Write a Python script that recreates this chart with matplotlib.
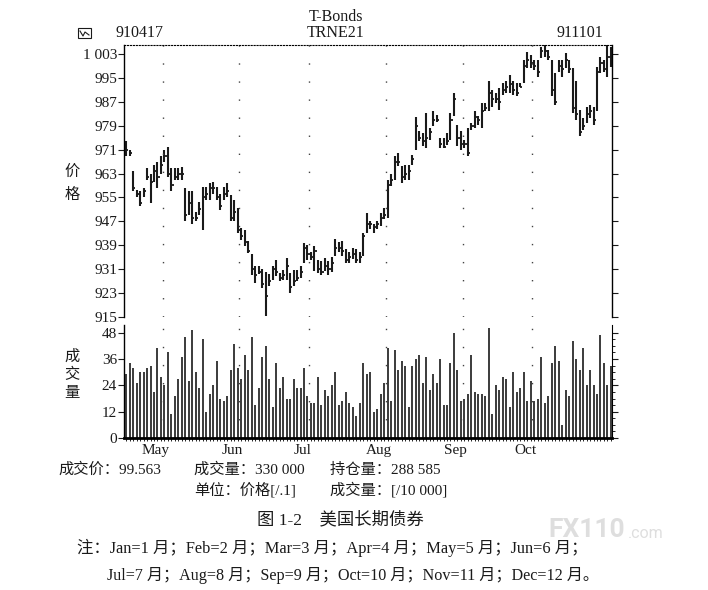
import numpy as np
import matplotlib.pyplot as plt
from matplotlib.patches import Rectangle
from matplotlib.lines import Line2D

plt.rcParams['font.family'] = ['Liberation Serif', 'Noto Sans CJK SC']

# daily bars 910417 .. 911101
highs = [974, 971, 964, 957.5, 957, 958, 965, 963, 966, 967,
         969, 971, 972, 965, 964.7, 964.7, 965.2, 958, 957, 957,
         950, 953.6, 958.5, 958.6, 959.7, 960.2, 958.6, 956.3, 958.6, 959.7,
         955.8, 954.1, 951.3, 944.7, 944, 940.3, 936, 932, 932, 930.9,
         929.9, 929.3, 932, 934.1, 929.7, 930.8, 934.7, 929.7, 930.8, 930.8,
         931.9, 939.7, 939.1, 936.9, 938.6, 934, 933.6, 934.7, 933.6, 935,
         941, 940, 940.5, 937.7, 936.6, 938.2, 937.7, 936.6, 943.2, 949.9,
         947.1, 946, 947.1, 949.9, 951.6, 961, 962.7, 968.8, 969.9, 965.4,
         966, 966, 969.3, 982, 977.1, 976.6, 983.2, 978.2, 983.8, 982.7,
         974.9, 975, 976.6, 983.2, 989.9, 979.3, 977.1, 974.3, 978.2, 979.9,
         983.8, 982.1, 986.6, 986.6, 993.8, 991, 989.9, 991.6, 993.2, 993.8,
         996, 993.8, 993.2, 993.2, 1001, 1003.8, 1002.7, 1001, 1001, 1005.4,
         1006.5, 1004.3, 1001, 996.6, 1001, 1001, 1003.2, 1001, 998.2, 993.8,
         984.3, 981.6, 985.4, 986, 985.4, 998.8, 1002.1, 1001, 1006, 1005.4]
lows = [969, 969, 957, 955, 952, 955, 961, 953, 960, 958,
        963, 967, 962, 957, 960.8, 961, 960.8, 947, 949, 946,
        947, 949.1, 944, 954.1, 954.1, 956.3, 954.1, 950.8, 954.1, 955.2,
        947, 947, 943, 940.8, 938.6, 936.4, 929.1, 926.5, 929.3, 924.8,
        915.3, 925.4, 927.5, 928.6, 926.9, 927.5, 927.5, 923, 925.3, 926.9,
        928, 933, 934.1, 934.1, 930.3, 929.6, 929.1, 930.3, 929.1, 930,
        935.5, 936.6, 935.5, 933.2, 933.2, 934.3, 933.2, 933.2, 935.5, 943.2,
        944.3, 943.2, 944.3, 945.4, 947.7, 948.2, 958.8, 961, 965.4, 959.9,
        961, 961, 966, 971, 973.8, 972.1, 971.6, 974.3, 978.8, 980.4,
        971.6, 971.6, 972.7, 974.3, 982.1, 972.1, 971, 971.6, 968.8, 977.7,
        978.2, 979.3, 978.2, 983.8, 983.8, 985.4, 986.6, 984.3, 989.3, 989.9,
        989.9, 989.3, 988.8, 992.1, 993.2, 998.2, 998.2, 997.7, 995.4, 1001.6,
        1002, 1001, 988.8, 986, 997.1, 995.4, 998.2, 996.6, 983.2, 981,
        975.4, 977.7, 979.9, 981.6, 979.3, 983.8, 996.6, 997.1, 995.4, 998.8]
closes = [971, 970, 958, 956, 953, 957, 962, 960, 964, 962,
          966, 969, 963, 959, 962, 963, 963, 949, 953, 948,
          948, 951, 955, 956, 958, 958, 955, 952, 956, 957,
          948, 950, 944, 942, 940, 937, 931, 929, 930, 926,
          922, 927, 931, 930, 928, 929, 932, 925, 927, 928,
          930, 938, 936, 935, 937, 931, 930, 932, 931, 933,
          938, 938, 937, 934, 935, 936, 934, 935, 942, 946,
          946, 945, 946, 948, 949, 959, 961, 967, 967, 962,
          963, 964, 968, 979, 975, 974, 975, 977, 981, 981,
          973, 972, 974, 981, 988, 975, 973, 973, 970, 979,
          982, 981, 984, 985, 990, 988, 988, 987, 991, 992,
          993, 991, 990, 992, 999, 1001, 1000, 999, 997, 1004,
          1004, 1002, 991, 987, 999, 998, 1001, 998, 985, 983,
          977, 979, 983, 984, 981, 997, 1000, 998, 1002, 1003]
volumes = [29, 34, 32, 25, 30, 30, 32, 33, 21, 41,
           28, 24, 39, 11, 19, 27, 37, 46, 26, 49,
           30, 23, 45, 12, 20, 24, 35, 18, 17, 19,
           31, 43, 32, 27, 38, 31, 46, 15, 23, 37,
           42, 27, 14, 34, 23, 28, 18, 18, 27, 23,
           23, 32, 19, 16, 16, 28, 15, 22, 19, 24,
           30, 15, 17, 21, 16, 14, 10, 16, 34, 29,
           30, 12, 13, 20, 25, 41, 17, 40, 31, 35,
           33, 14, 33, 36, 38, 25, 37, 22, 29, 25,
           36, 15, 15, 34, 48, 31, 17, 18, 20, 38,
           21, 20, 20, 19, 50, 11, 24, 22, 28, 27,
           14, 30, 21, 23, 30, 17, 26, 17, 18, 37,
           16, 19, 34, 42, 35, 6, 22, 19, 44, 36,
           31, 41, 24, 31, 24, 20, 47, 34, 24, 33]

month_labels = ["May", "Jun", "Jul", "Aug", "Sep", "Oct"]
month_starts = [10, 32, 52, 74, 96, 116]
price_ticks = [915, 923, 931, 939, 947, 955, 963, 971, 979, 987, 995, 1003]
price_tick_labels = ["915", "923", "931", "939", "947", "955", "963",
                     "971", "979", "987", "995", "1 003"]
volume_ticks = [0, 12, 24, 36, 48]

W, H = 708, 590
ink = "#1a1a1a"


def fx(px):
    return px / W


def fy(py):
    return 1 - py / H


fig = plt.figure(figsize=(W / 100, H / 100), dpi=100)
ax_p = fig.add_axes([fx(124), fy(317), fx(612) - fx(124), fy(45) - fy(317)])
ax_v = fig.add_axes([fx(124), fy(438), fx(612) - fx(124), fy(325) - fy(438)])

x = np.arange(len(closes))
xlim = (-0.6, len(closes) - 0.7)

# price panel
ax_p.vlines(x, lows, highs, color=ink, lw=1.5)
ax_p.hlines(closes, x, x + 0.6, color=ink, lw=1.3)
for m in month_starts:
    ax_p.axvline(m + 0.5, color="#444444", lw=1.0, ls=(0, (1, 12)))
ax_p.set_xlim(*xlim)
ax_p.set_ylim(915, 1006)
ax_p.set_yticks(price_ticks)
ax_p.set_yticklabels(price_tick_labels)
ax_p.set_xticks([])
ax_p.tick_params(axis="y", which="both", left=True, right=True, direction="out",
                 length=4, width=0.8, labelsize=11, pad=1, colors=ink)
ax_p.spines["bottom"].set_visible(False)
ax_p.spines["top"].set_linestyle(":")
ax_p.spines["top"].set_linewidth(0.8)
ax_p.spines["left"].set_linewidth(1.0)
ax_p.spines["right"].set_linewidth(1.0)

# volume panel
ax_v.vlines(x, 0, volumes, color=ink, lw=1.2)
for m in month_starts:
    ax_v.axvline(m + 0.5, color="#444444", lw=1.0, ls=(0, (1, 12)))
ax_v.set_xlim(*xlim)
ax_v.set_ylim(0, 51.5)
ax_v.set_yticks(volume_ticks)
ax_v.set_yticks(np.arange(0, 51, 3), minor=True)
ax_v.set_xticks([m - 1.5 for m in month_starts])
ax_v.set_xticklabels(month_labels)
ax_v.set_xticks(x, minor=True)
ax_v.tick_params(axis="x", which="major", length=0, labelsize=11, pad=4.5, colors=ink)
ax_v.tick_params(axis="x", which="minor", length=2.5, width=0.6, direction="out")
ax_v.tick_params(axis="y", which="major", left=True, right=True, direction="out",
                 length=4, width=0.8, labelsize=11, pad=1, colors=ink)
ax_v.tick_params(axis="y", which="minor", left=False, right=True, length=2, width=0.6)
ax_v.spines["top"].set_visible(False)
ax_v.spines["bottom"].set_linewidth(2.0)
ax_v.spines["left"].set_linewidth(1.0)
ax_v.spines["right"].set_linewidth(0.8)

# header
fig.text(fx(336), fy(17), "T-Bonds", ha="center", va="center", fontsize=11.5, color=ink)
fig.text(fx(139), fy(33), "910417", ha="center", va="center", fontsize=11.5, color=ink)
fig.text(fx(336), fy(33), "TRNE21", ha="center", va="center", fontsize=11.5, color=ink)
fig.text(fx(580), fy(33), "911101", ha="center", va="center", fontsize=11.5, color=ink)
fig.add_artist(Rectangle((fx(78), fy(38)), fx(13), fy(28) - fy(38),
                         transform=fig.transFigure, fill=False, lw=0.8, ec=ink))
fig.add_artist(Line2D([fx(80), fx(83), fx(85), fx(89)], [fy(31), fy(36), fy(32), fy(35)],
                      transform=fig.transFigure, lw=0.8, color=ink))

# axis captions
for ch, py in zip("价格", [172, 195]):
    fig.text(fx(72), fy(py), ch, ha="center", va="center", fontsize=11, color=ink)
for ch, py in zip("成交量", [357, 375, 393]):
    fig.text(fx(72), fy(py), ch, ha="center", va="center", fontsize=11, color=ink)

# footer info
fig.text(fx(58), fy(470), "成交价：99.563", ha="left", va="center", fontsize=11, color=ink)
fig.text(fx(194), fy(470), "成交量：330 000", ha="left", va="center", fontsize=11, color=ink)
fig.text(fx(330), fy(470), "持仓量：288 585", ha="left", va="center", fontsize=11, color=ink)
fig.text(fx(194), fy(490), "单位：价格[/.1]", ha="left", va="center", fontsize=11, color=ink)
fig.text(fx(330), fy(490), "成交量：[/10 000]", ha="left", va="center", fontsize=11, color=ink)

fig.text(fx(340), fy(520), "图 1-2    美国长期债券", ha="center", va="center",
         fontsize=12.5, color=ink)
fig.text(fx(77), fy(548), "注：Jan=1 月；Feb=2 月；Mar=3 月；Apr=4 月；May=5 月；Jun=6 月；",
         ha="left", va="center", fontsize=11.8, color=ink)
fig.text(fx(107), fy(576), "Jul=7 月；Aug=8 月；Sep=9 月；Oct=10 月；Nov=11 月；Dec=12 月。",
         ha="left", va="center", fontsize=11.6, color=ink)

# watermark, kept just above the note line
fig.text(fx(548), fy(530), "FX110", ha="left", va="center", fontsize=19,
         fontweight="bold", family="Roboto", color="#dcdcdc", alpha=0.92)
fig.text(fx(628), fy(534), ".com", ha="left", va="center", fontsize=11.5,
         family="Roboto", color="#dcdcdc", alpha=0.92)

fig.savefig("out.png", dpi=100)
